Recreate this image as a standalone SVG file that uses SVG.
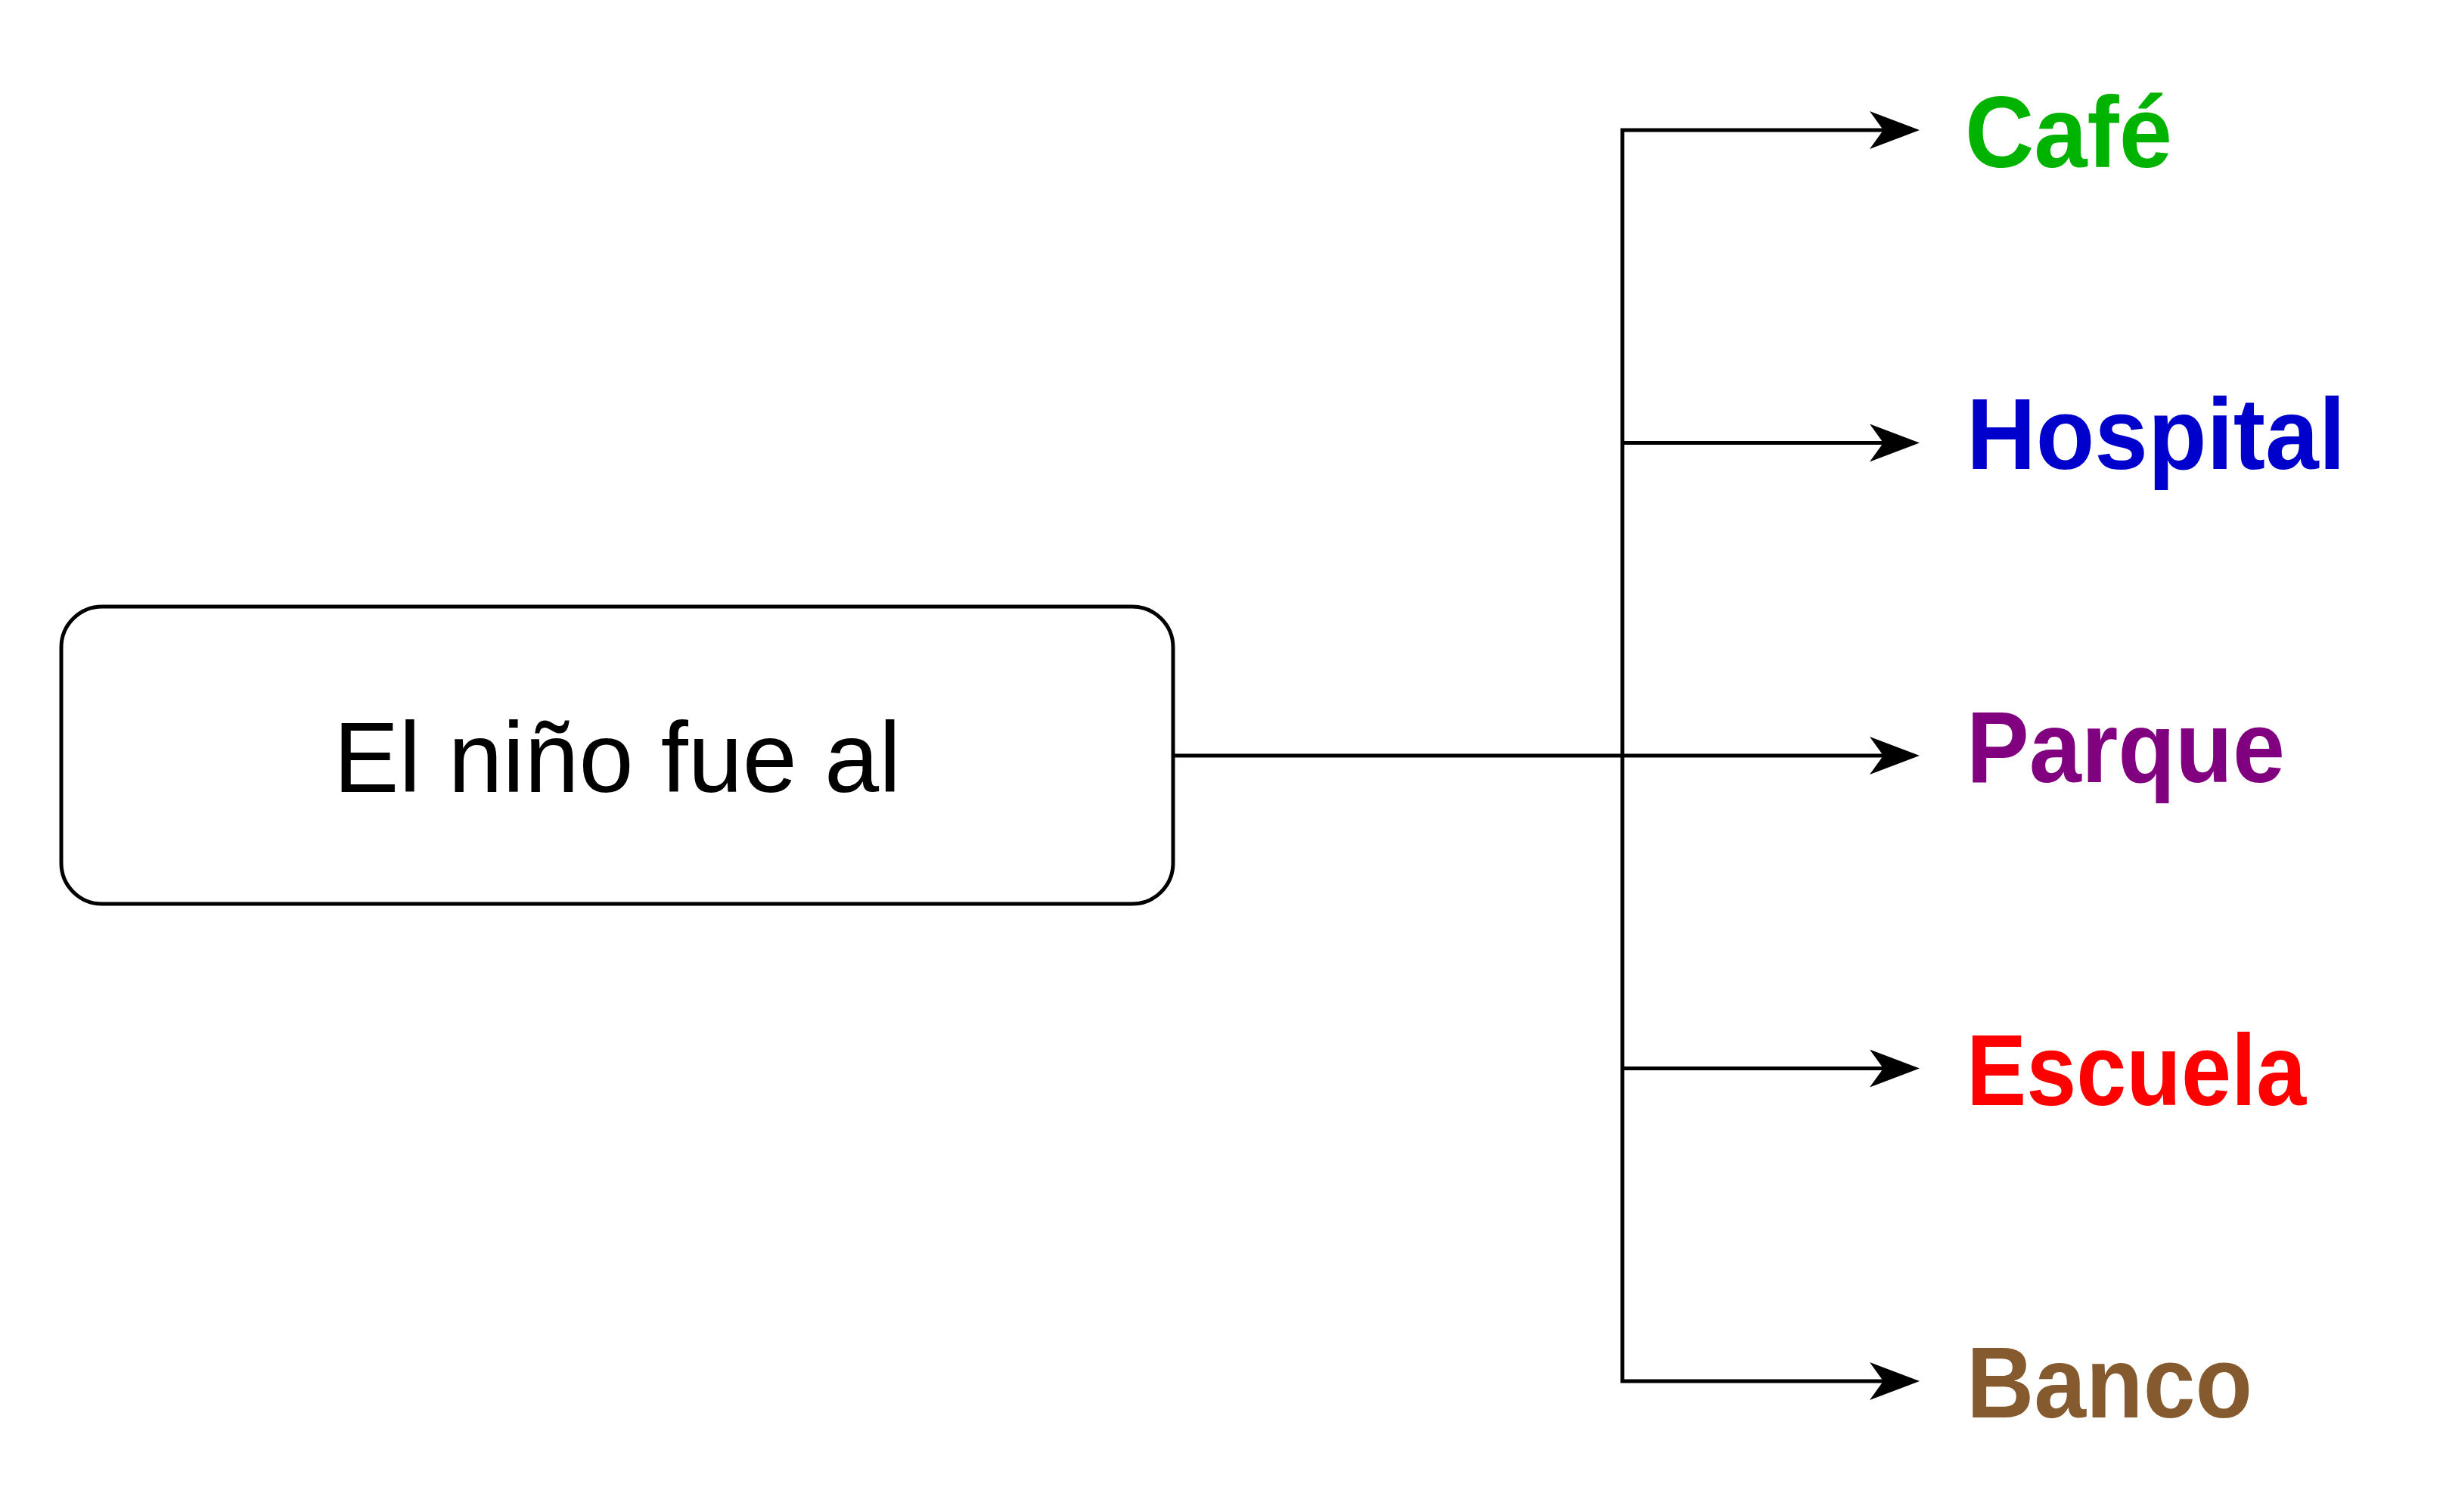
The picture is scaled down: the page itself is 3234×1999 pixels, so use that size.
<svg xmlns="http://www.w3.org/2000/svg" width="3234" height="1999" viewBox="0 0 3234 1999">
<style>
.edge{fill:none;stroke:#000;stroke-width:5;stroke-linejoin:miter}
.box{fill:#fff;stroke:#000;stroke-width:5}
.main{font-family:"Liberation Sans",Arial,sans-serif;font-size:132px;fill:#000}
.lbl{font-family:"Liberation Sans",Arial,sans-serif;font-weight:bold;font-size:134px}
</style>
<defs>
<marker id="arr" markerUnits="userSpaceOnUse" viewBox="0 -25 66 50" refX="28" refY="0" markerWidth="66" markerHeight="50" orient="auto-start-reverse">
<path d="M66,0 L0,-25 L18,0 L0,25 Z" fill="#000"/>
</marker>
</defs>
<rect width="3234" height="1999" fill="#fff"/>
<g id="connectors">
<path class="edge" d="M1551,999 H2145"/>
<path class="edge" d="M2500,172 H2145 V1826 H2500" marker-start="url(#arr)" marker-end="url(#arr)"/>
<path class="edge" d="M2145,585.5 H2500" marker-end="url(#arr)"/>
<path class="edge" d="M2145,999 H2500" marker-end="url(#arr)"/>
<path class="edge" d="M2145,1412.5 H2500" marker-end="url(#arr)"/>
</g>
<g id="source">
<rect class="box" x="81" y="802" width="1470" height="393" rx="54" ry="54"/>
<text class="main" x="816" y="1047" text-anchor="middle" textLength="750" lengthAdjust="spacingAndGlyphs">El niño fue al</text>
</g>
<g id="cafe"><text class="lbl" x="2598" y="221" fill="#00B300" textLength="274" lengthAdjust="spacingAndGlyphs">Café</text></g>
<g id="hospital"><text class="lbl" x="2600" y="620" fill="#0000CC" textLength="501" lengthAdjust="spacingAndGlyphs">Hospital</text></g>
<g id="parque"><text class="lbl" x="2600" y="1034" fill="#800080" textLength="421" lengthAdjust="spacingAndGlyphs">Parque</text></g>
<g id="escuela"><text class="lbl" x="2600" y="1461" fill="#FF0000" textLength="449" lengthAdjust="spacingAndGlyphs">Escuela</text></g>
<g id="banco"><text class="lbl" x="2600" y="1874" fill="#855A2E" textLength="378" lengthAdjust="spacingAndGlyphs">Banco</text></g>
</svg>
